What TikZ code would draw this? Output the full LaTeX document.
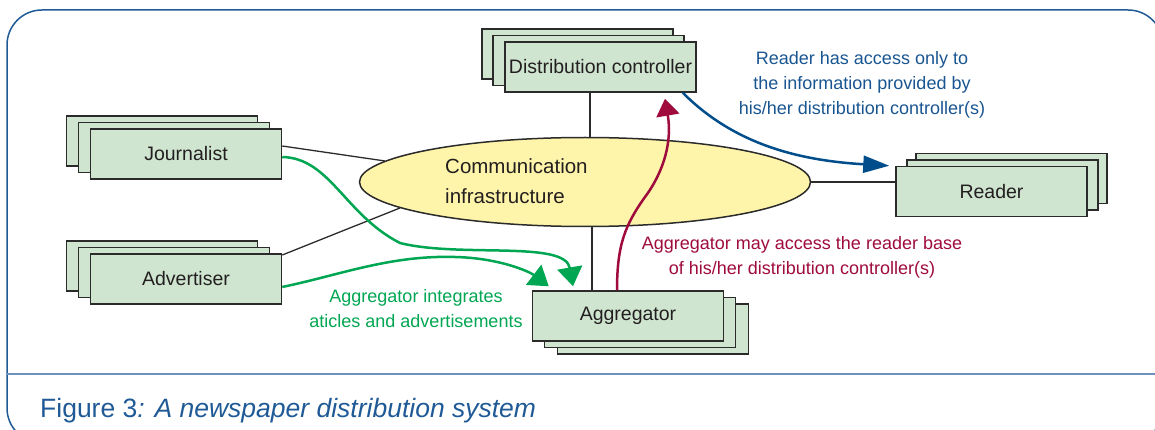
\documentclass[tikz,border=0pt]{standalone}
\usepackage{fontspec}
\setmainfont{Liberation Sans}
\usetikzlibrary{shapes.geometric,arrows.meta,calc}
\definecolor{boxfill}{RGB}{207,229,208}
\definecolor{boxline}{RGB}{43,43,43}
\definecolor{ellfill}{RGB}{255,245,170}
\definecolor{framecol}{RGB}{31,90,150}
\definecolor{sepcol}{RGB}{110,145,190}
\definecolor{gcol}{RGB}{0,166,81}
\definecolor{rcol}{RGB}{158,11,60}
\definecolor{bcol}{RGB}{0,77,140}
\definecolor{btext}{RGB}{25,85,145}
\definecolor{txt}{RGB}{35,31,32}
\begin{document}
\begin{tikzpicture}[x=1pt,y=-1pt,
  card/.style={draw=boxline, fill=boxfill, line width=1.5pt, minimum width=191pt, minimum height=50pt, inner sep=0pt, text=txt, font=\fontsize{19.5}{23}\selectfont},
  conn/.style={draw=boxline, line width=1.3pt},
  garrow/.style={draw=gcol, line width=2.5pt, -{Triangle[length=19pt,width=25pt]}, fill=none},
  rarrow/.style={draw=rcol, line width=2.5pt, -{Triangle[length=17pt,width=23pt]}},
  barrow/.style={draw=bcol, line width=2.5pt, -{Triangle[length=26pt,width=17pt]}},
  note/.style={align=center, inner sep=0pt, font=\fontsize{18}{25}\selectfont}]
\useasboundingbox (0,0) rectangle (1155,430);
\begin{scope}
  \clip (0,0) rectangle (1155,430);
  \draw[framecol, line width=1.5pt, rounded corners=35pt] (7,10) rectangle (1163,443);
\end{scope}
\draw[sepcol, line width=1.2pt] (7,374) -- (1155,374);

% communication infrastructure
\node[draw=boxline, fill=ellfill, ellipse, line width=1.5pt, minimum width=451pt, minimum height=89pt, inner sep=0pt] (comm) at (585,182) {};
\node[anchor=west, align=left, inner sep=0pt, text=txt, font=\fontsize{20.5}{30}\selectfont] (commtxt) at (445,181) {Communication\\infrastructure};

% stacks
\node[card] (jb2) at (162,141) {};
\node[card] (jb1) at (174,147.5) {};
\node[card] (jf) at (186,154) {Journalist};

\node[card] (ab2) at (162,266) {};
\node[card] (ab1) at (174,272.5) {};
\node[card] (advf) at (186,279) {Advertiser};

\node[card] (db2) at (577.5,54) {};
\node[card] (db1) at (588.5,60.5) {};
\node[card] (dcf) at (600.5,67) {Distribution controller};

\node[card] (gb2) at (653,329) {};
\node[card] (gb1) at (640,322.5) {};
\node[card] (af) at (628,316) {Aggregator};

\node[card] (rb2) at (1011.5,178.5) {};
\node[card] (rb1) at (1002.5,185) {};
\node[card] (rf) at (991.5,191.5) {Reader};

% plain connectors
\draw[conn] ([yshift=8pt]jf.east) -- (comm.174);
\draw[conn] ([yshift=24pt]advf.east) -- (comm.188.6);
\draw[conn] ([xshift=-10.5pt]dcf.south) -- ([xshift=-10.5pt]dcf.south |- comm.north);
\draw[conn] ([xshift=-36pt]af.north) -- ([xshift=-36pt]af.north |- comm.south);
\draw[conn] ([yshift=9.5pt]rf.west) -- (comm.east);

% green arrows
\draw[garrow] ([yshift=-3pt]jf.east) .. controls (330,158) and (345,215) .. (400,243)
  .. controls (460,258) and (565,240) .. ([xshift=-55pt,yshift=4pt]af.north);
\draw[garrow] ([yshift=-8pt]advf.east) .. controls (340,275) and (390,255) .. (455,257)
  .. controls (500,258) and (530,272) .. ([xshift=17pt,yshift=4pt]af.north west);

% red arrow
\draw[rarrow] ([xshift=-11pt]af.north) .. controls (617,245) and (625,225) .. (645,197)
  .. controls (665,170) and (672,140) .. ([xshift=64.5pt,yshift=-6pt]dcf.south);

% blue arrow
\draw[barrow] ([xshift=-14pt]dcf.south east) .. controls (730,140) and (790,160) .. ([xshift=-6pt]rf.north west);

% notes
\node[note, text=btext] (bnote) at (862,85) {Reader has access only to\\the information provided by\\his/her distribution controller(s)};
\node[note, text=rcol] (rnote) at (802,257) {Aggregator may access the reader base\\of his/her distribution controller(s)};
\node[note, text=gcol] (gnote) at (416,308.5) {Aggregator integrates\\aticles and advertisements};

% caption
\node[anchor=base west, inner sep=0pt, text=framecol, font=\fontsize{26.5}{30}\selectfont] (cap) at (40,417) {Figure 3\textit{: A newspaper distribution system}};
\end{tikzpicture}
\end{document}
